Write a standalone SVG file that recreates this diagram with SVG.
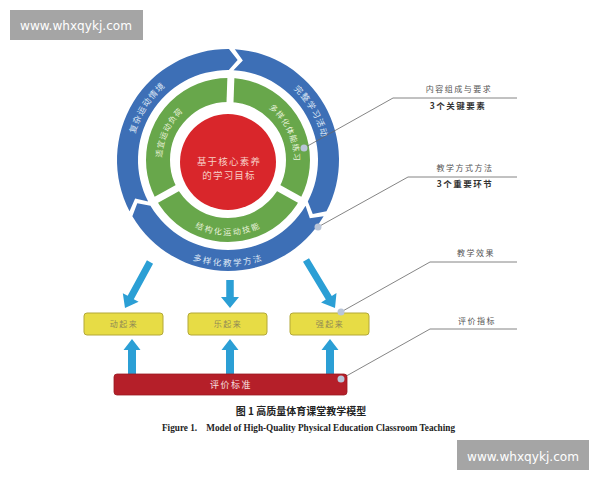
<svg xmlns="http://www.w3.org/2000/svg" width="600" height="480" viewBox="0 0 600 480">
<style>
.cjk{font-family:"Noto Sans CJK SC","Noto Sans",sans-serif;}
.bt{fill:#dde7f5;font-size:8.5px;letter-spacing:1.5px;}
.gt{fill:#eaf3dc;font-size:8px;letter-spacing:1.3px;}
.lbl{fill:#555;font-size:8px;letter-spacing:1.5px;text-anchor:middle;}
.lblb{fill:#333;font-size:8.5px;font-weight:bold;letter-spacing:1.5px;text-anchor:middle;}
.box{fill:#e7dc45;stroke:#b3a838;stroke-width:1;}
.boxt{fill:#8f8a55;font-size:8px;letter-spacing:1.5px;text-anchor:middle;}
.arr{fill:#2b9fd5;}
.lead{fill:none;stroke:#666;stroke-width:0.8;}
.dot{fill:#b9c5d8;}
.wm{fill:#a5a5a5;}
.wmt{fill:#fff;font-family:"DejaVu Sans","Liberation Sans",sans-serif;font-size:13px;}
</style>
<defs>
<path id="pBL" d="M127.64,154.74 A100.5,100.5 0 0 1 182.37,70.45"/>
<path id="pBR" d="M278.25,72.96 A100.5,100.5 0 0 1 328.5,160"/>
<path id="pBB" d="M177,248.34 A102,102 0 0 0 279,248.34"/>
<path id="pGL" d="M158.27,166.10 A70,70 0 0 1 187.85,102.66"/>
<path id="pGR" d="M268.15,102.66 A70,70 0 0 1 297.73,166.10"/>
<path id="pGB" d="M187.28,218.16 A71,71 0 0 0 268.72,218.16"/>
</defs>
<rect width="600" height="480" fill="#fff"/>

<g id="outer-ring">
<path id="seg-left" fill="#3d6fb6" d="M129.54,211.25 A111,111 0 0 1 228.97,49.00 L237.63,59.96 L228.79,70.00 A90,90 0 0 0 148.17,201.56 L135.15,198.46 Z"/>
<path id="seg-right" fill="#3d6fb6" d="M234.78,49.21 A111,111 0 0 1 326.46,211.25 L312.76,214.00 L307.83,201.56 A90,90 0 0 0 233.49,70.17 L242.85,60.60 Z"/>
<path id="seg-bottom" fill="#3d6fb6" d="M323.64,216.34 A111,111 0 0 1 132.36,216.34 L137.29,203.27 L150.45,205.68 A90,90 0 0 0 305.55,205.68 L309.82,218.36 Z"/>
<text class="cjk bt" dominant-baseline="central"><textPath href="#pBL" startOffset="50%" text-anchor="middle">复杂运动情境</textPath></text>
<text class="cjk bt" dominant-baseline="central"><textPath href="#pBR" startOffset="50%" text-anchor="middle">完整学习活动</textPath></text>
<text class="cjk bt" dominant-baseline="central"><textPath href="#pBB" startOffset="50%" text-anchor="middle">多样化教学方法</textPath></text>
</g>

<g id="inner-ring">
<circle cx="228" cy="160" r="70" fill="none" stroke="#68a74b" stroke-width="24"/>
<g stroke="#fff" stroke-width="7">
<line x1="229.81" y1="108.03" x2="231.0" y2="74.05"/>
<line x1="273.48" y1="185.21" x2="303.22" y2="201.69"/>
<line x1="182.52" y1="185.21" x2="152.78" y2="201.69"/>
</g>
<text class="cjk gt" dominant-baseline="central"><textPath href="#pGL" startOffset="50%" text-anchor="middle">适宜运动负荷</textPath></text>
<text class="cjk gt" dominant-baseline="central"><textPath href="#pGR" startOffset="50%" text-anchor="middle">多样化体能练习</textPath></text>
<text class="cjk gt" dominant-baseline="central"><textPath href="#pGB" startOffset="50%" text-anchor="middle">结构化运动技能</textPath></text>
</g>

<g id="core">
<circle cx="228" cy="162" r="48" fill="#d9262b"/>
<text class="cjk" x="229" y="164.5" font-size="9.5" fill="#f7cfc6" text-anchor="middle" letter-spacing="1.2">基于核心素养</text>
<text class="cjk" x="229" y="179" font-size="9.5" fill="#f7cfc6" text-anchor="middle" letter-spacing="1.2">的学习目标</text>
</g>

<g id="connectors">
<polygon class="arr" points="153.07,263.67 133.79,299.13 138.62,301.75 125,308 122.82,293.17 127.65,295.79 146.93,260.33"/>
<polygon class="arr" points="226.25,280 226.25,297 221,297 230,308 239,297 233.75,297 233.75,280"/>
<polygon class="arr" points="309.0,258.19 331.79,295.92 336.50,293.08 335,308 321.08,302.38 325.79,299.54 303.0,261.81"/>
<polygon class="arr" points="128,374 128,350 123.5,350 132,339 140.5,350 136,350 136,374"/>
<polygon class="arr" points="226,374 226,350 221.5,350 230,339 238.5,350 234,350 234,374"/>
<polygon class="arr" points="326,374 326,350 321.5,350 330,339 338.5,350 334,350 334,374"/>
<polyline class="lead" points="304,148 393,98 517,98"/>
<polyline class="lead" points="318,227 408,177 517,177"/>
<polyline class="lead" points="341,312 430,262 517,262"/>
<polyline class="lead" points="341,379 430,329 517,329"/>
</g>

<g id="box-1"><rect class="box" x="84" y="313" width="79" height="22" rx="3"/><text class="cjk boxt" x="124" y="327">动起来</text></g>
<g id="box-2"><rect class="box" x="188" y="313" width="79" height="22" rx="3"/><text class="cjk boxt" x="228" y="327">乐起来</text></g>
<g id="box-3"><rect class="box" x="290" y="313" width="79" height="22" rx="3"/><text class="cjk boxt" x="330" y="327">强起来</text></g>

<g id="eval-bar">
<rect x="114" y="374" width="233" height="21" rx="3" fill="#b51f29" stroke="#9a1a22" stroke-width="0.8"/>
<text class="cjk" x="231" y="388" font-size="9" fill="#f8e3e3" text-anchor="middle" letter-spacing="1.5">评价标准</text>
</g>

<g id="dots">
<circle class="dot" cx="304" cy="148" r="3.5"/>
<circle class="dot" cx="318" cy="227" r="3.5"/>
<circle class="dot" cx="341" cy="312" r="3.5"/>
<circle class="dot" cx="341" cy="379" r="3.5"/>
</g>

<g id="labels">
<text class="cjk lbl" x="459" y="92">内容组成与要求</text>
<text class="cjk lblb" x="458" y="109">3个关键要素</text>
<text class="cjk lbl" x="465" y="171">教学方式方法</text>
<text class="cjk lblb" x="465" y="187">3个重要环节</text>
<text class="cjk lbl" x="476" y="256">教学效果</text>
<text class="cjk lbl" x="477" y="324">评价指标</text>
</g>

<g id="caption">
<text class="cjk" x="301" y="414.5" font-size="10" font-weight="bold" fill="#222" text-anchor="middle">图 1  高质量体育课堂教学模型</text>
<text x="162" y="430.5" font-family="'Liberation Serif',serif" font-size="9.5" font-weight="bold" fill="#222" textLength="293" lengthAdjust="spacingAndGlyphs" xml:space="preserve">Figure 1.    Model of High-Quality Physical Education Classroom Teaching</text>
</g>

<g id="watermarks">
<rect class="wm" x="10" y="10" width="133" height="30"/>
<text class="wmt" x="20" y="29.5" textLength="112" lengthAdjust="spacingAndGlyphs">www.whxqykj.com</text>
<rect class="wm" x="457" y="440" width="132" height="30"/>
<text class="wmt" x="467" y="460.5" textLength="112" lengthAdjust="spacingAndGlyphs">www.whxqykj.com</text>
</g>
</svg>
